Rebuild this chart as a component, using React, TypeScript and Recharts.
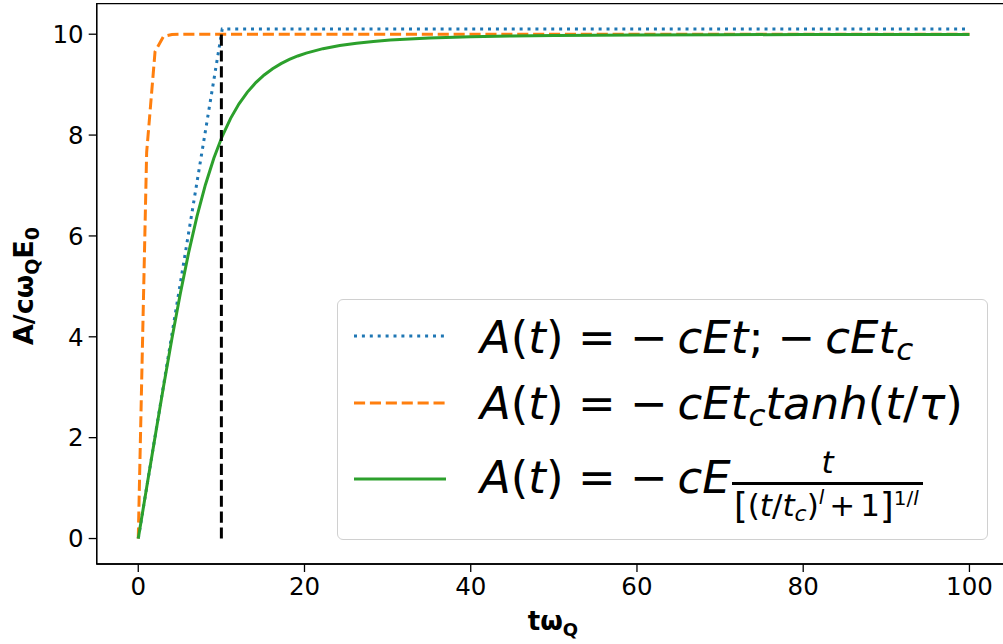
import React from 'react';
import { LineChart, Line, XAxis, YAxis, ReferenceArea, Legend } from 'recharts';

// ---------- data ----------
const xTicks = [0, 20, 40, 60, 80, 100];
const yTicks = [0, 2, 4, 6, 8, 10];
const xDomain = [-5, 105];
const yDomain = [-0.505, 10.605];

// A(t) = -cEt ; -cEt_c  (blue dotted)
const linearT = [0, 10.101, 100];
const linearA = [0, 10.101, 10.101];

// A(t) = -cEt_c tanh(t/tau)  (orange dashed)
const tanhT = [0, 1.0101, 2.0202, 3.0303, 4.0404, 5.0505, 6.0606, 100];
const tanhA = [0, 7.658, 9.655, 9.953, 9.994, 9.999, 10.0, 10.0];

// A(t) = -cE t / [(t/tc)^l + 1]^(1/l)  (green solid)
const smoothT = [0, 1.0101, 2.0202, 3.0303, 4.0404, 5.0505, 6.0606, 7.0707, 8.0808, 9.0909, 10.101, 11.111, 12.121, 13.131, 14.141, 15.152, 16.162, 17.172, 18.182, 19.192, 20.202, 22.222, 24.242, 26.263, 28.283, 30.303, 35, 40, 45, 50, 60, 70, 80, 90, 100];
const smoothA = [0, 1.0098, 2.0147, 3.0027, 3.9554, 4.8505, 5.6679, 6.3921, 7.0163, 7.542, 7.9767, 8.3319, 8.6196, 8.8522, 9.0401, 9.1923, 9.3159, 9.4169, 9.4999, 9.5685, 9.6255, 9.7134, 9.7763, 9.8225, 9.8568, 9.8829, 9.923, 9.948, 9.964, 9.973, 9.985, 9.99, 9.9935, 9.9954, 9.9967];

// vertical marker at t_c
const cutoffT = [10, 10];
const cutoffA = [0, 10];

const zip = (ts: number[], as: number[]) => ts.map((t, i) => ({ t, a: as[i] }));

const BLUE = '#1f77b4';
const ORANGE = '#ff7f0e';
const GREEN = '#2ca02c';
const FONT = '"DejaVu Sans", sans-serif';
const DOT = '3 4.9';
const DASH = '11.1 4.8';

const it = (s: string) => <span style={{ fontStyle: 'italic' }}>{s}</span>;
const sub = (s: string, size: number, drop: number, italic = true) => (
  <span style={{ fontSize: size, position: 'relative', top: drop, fontStyle: italic ? 'italic' : 'normal' }}>{s}</span>
);

const ROW_FS = 45;
const BASE_OFF = 0.846; // baseline offset in em for line-height 1

const Handle = ({ y, color, dash }: { y: number; color: string; dash?: string }) => (
  <svg style={{ position: 'absolute', left: 354, top: y - 3, overflow: 'visible' }} width={92} height={6}>
    <line x1={0} y1={3} x2={92} y2={3} stroke={color} strokeWidth={3} strokeDasharray={dash} />
  </svg>
);

const rowStyle = (baseline: number): React.CSSProperties => ({
  position: 'absolute',
  left: 480,
  top: baseline - BASE_OFF * ROW_FS,
  fontSize: ROW_FS,
  lineHeight: `${ROW_FS}px`,
  fontFamily: FONT,
  whiteSpace: 'pre',
  color: '#000',
});

const FR = 31;
const gap = (w: number) => <span style={{ display: 'inline-block', width: w }} />;

const renderLegend = () => (
  <div style={{ position: 'absolute', left: 0, top: 0, width: 1003, height: 644, pointerEvents: 'none' }}>
    <div
      style={{
        position: 'absolute',
        left: 336.5,
        top: 299,
        width: 651,
        height: 241,
        boxSizing: 'border-box',
        border: '1.3px solid #d0d0d0',
        borderRadius: 6,
        background: 'rgba(255,255,255,0.8)',
      }}
    />
    <Handle y={335.7} color={BLUE} dash={DOT} />
    <Handle y={402.7} color={ORANGE} dash={DASH} />
    <Handle y={478.7} color={GREEN} />
    <div style={rowStyle(352.7)}>
      {it('A')}({it('t')}) = −{gap(10)}{it('cEt')};{gap(14)}−{gap(10)}{it('cEt')}{sub('c', 31, 7)}
    </div>
    <div style={rowStyle(419)}>
      {it('A')}({it('t')}) = −{gap(10)}{it('cEt')}{sub('c', 31, 7)}{it('tanh')}({it('t')}/{it('τ')})
    </div>
    <div style={rowStyle(493)}>
      {it('A')}({it('t')}) = −{gap(10)}{it('cE')}
    </div>
    {/* fraction */}
    <div
      style={{
        position: 'absolute',
        left: 732,
        width: 191,
        top: 473 - BASE_OFF * FR,
        fontSize: FR,
        lineHeight: `${FR}px`,
        fontFamily: FONT,
        textAlign: 'center',
        fontStyle: 'italic',
      }}
    >
      t
    </div>
    <div style={{ position: 'absolute', left: 732, top: 482, width: 191, height: 2.7, background: '#000' }} />
    <div
      style={{
        position: 'absolute',
        left: 734,
        top: 515 - BASE_OFF * FR,
        fontSize: FR,
        lineHeight: `${FR}px`,
        fontFamily: FONT,
        whiteSpace: 'pre',
      }}
    >
      <span style={{ fontSize: 35, position: 'relative', top: 2 }}>[</span>({it('t')}/{it('t')}{sub('c', 22, 5)}){sub('l', 20, -12)}
      <span style={{ margin: '0 5px' }}>+</span>1<span style={{ fontSize: 35, position: 'relative', top: 2 }}>]</span>
      {sub('1/', 20, -11, false)}{sub('l', 20, -11)}
    </div>
  </div>
);

const XLabel = () => (
  <text x={553} y={630} textAnchor="middle" fontFamily={FONT} fontWeight="bold" fontSize={26} fill="#000">
    tω<tspan dy={6} fontSize={18}>Q</tspan>
  </text>
);

const YLabel = () => (
  <text
    x={286}
    y={33}
    transform="rotate(-90, 286, 286)"
    textAnchor="middle"
    fontFamily={FONT}
    fontWeight="bold"
    fontSize={27}
    fill="#000"
  >
    A/cω<tspan dy={6} fontSize={19}>Q</tspan>
    <tspan dy={-6}>E</tspan>
    <tspan dy={6} fontSize={19}>0</tspan>
  </text>
);

export default function App() {
  const tickStyle = { fontSize: 24.5, fill: '#000', fontFamily: FONT };
  const axisLine = { stroke: '#000', strokeWidth: 1.3 };
  return (
    <div style={{ position: 'absolute', left: 0, top: 0, width: 1003, height: 644, overflow: 'hidden', background: '#fff' }}>
      <LineChart width={1020} height={644} margin={{ top: 3.7, right: 9, bottom: 0, left: 0 }}>
        <XAxis
          dataKey="t"
          type="number"
          domain={xDomain}
          ticks={xTicks}
          interval={0}
          allowDataOverflow
          tick={tickStyle}
          tickLine={axisLine}
          axisLine={axisLine}
          tickSize={8}
          tickMargin={6}
          height={80}
          label={<XLabel />}
        />
        <YAxis
          type="number"
          domain={yDomain}
          ticks={yTicks}
          interval={0}
          allowDataOverflow
          tick={tickStyle}
          tickLine={axisLine}
          axisLine={axisLine}
          tickSize={8}
          tickMargin={5}
          width={96.7}
          label={<YLabel />}
        />
        <ReferenceArea
          x1={xDomain[0]}
          x2={xDomain[1]}
          y1={yDomain[0]}
          y2={yDomain[1]}
          fill="none"
          fillOpacity={0}
          stroke="#000"
          strokeWidth={1.3}
          ifOverflow="visible"
        />
        <Line data={zip(linearT, linearA)} dataKey="a" name="linear" type="linear" stroke={BLUE} strokeWidth={3} strokeDasharray={DOT} dot={false} activeDot={false} isAnimationActive={false} />
        <Line data={zip(tanhT, tanhA)} dataKey="a" name="tanh" type="linear" stroke={ORANGE} strokeWidth={3} strokeDasharray={DASH} dot={false} activeDot={false} isAnimationActive={false} />
        <Line data={zip(smoothT, smoothA)} dataKey="a" name="smooth" type="linear" stroke={GREEN} strokeWidth={3} dot={false} activeDot={false} isAnimationActive={false} />
        <Line data={zip(cutoffT, cutoffA)} dataKey="a" name="cutoff" type="linear" stroke="#000" strokeWidth={3} strokeDasharray={DASH} dot={false} activeDot={false} isAnimationActive={false} legendType="none" />
        <Legend
          layout="horizontal"
          verticalAlign="middle"
          align="center"
          content={renderLegend}
          wrapperStyle={{ left: 0, top: 0, width: 1003, height: 644, pointerEvents: 'none' }}
        />
      </LineChart>
    </div>
  );
}
